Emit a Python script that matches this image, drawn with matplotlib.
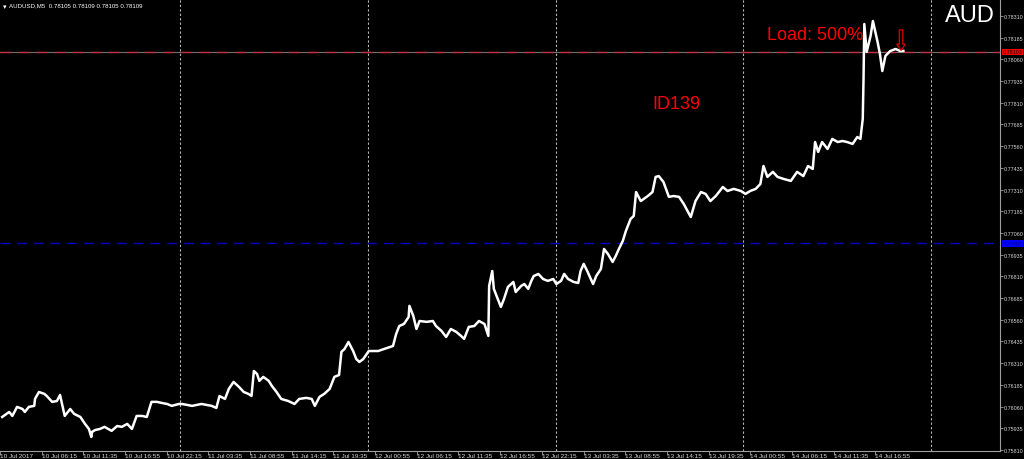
import matplotlib
matplotlib.use("Agg")
import matplotlib.pyplot as plt
import matplotlib.transforms as mtransforms

# hours since 10 Jul 2017 00:00 and AUDUSD M5 price
hours = [
    1.2, 2.1, 2.5, 3.1, 3.8, 4.1, 4.6, 5.3, 5.4, 5.9, 6.6, 6.9, 7.6, 8.2, 8.6,
    9.2, 9.9, 10.4, 11.2, 11.8, 12.3, 12.6, 12.7, 13.1, 13.7, 14.3, 15.2, 15.9,
    16.5, 17.2, 17.8, 18.4, 19.1, 19.7, 20.3, 21.0, 21.6, 22.3, 22.9, 23.8,
    24.2, 25.5, 26.7, 28.0, 28.6, 29.0, 29.7, 30.2, 30.8, 31.5, 32.1, 32.7,
    33.1, 33.4, 33.8, 34.1, 34.6, 35.3, 35.7, 36.3, 36.9, 37.8, 38.6, 39.2,
    40.1, 40.8, 41.2, 41.8, 42.4, 43.1, 43.7, 44.3, 44.6, 45.0, 45.5, 46.1,
    46.5, 46.9, 47.4, 48.1, 48.4,
    49.3, 50.1, 51.2, 51.6, 52.0, 52.6, 53.2, 53.3, 53.8, 54.2, 54.6, 55.5,
    56.3, 56.7, 57.4, 58.0, 58.6, 59.3, 59.9, 60.3, 60.9, 61.6, 62.2, 62.9,
    63.4, 63.5, 63.9, 64.1, 64.6, 65.0, 65.4, 65.9, 66.6, 66.9, 67.6, 68.0,
    68.5, 68.9, 69.2, 69.8, 70.4, 71.0, 71.7, 72.1, 72.7,
    73.1, 73.6, 74.3, 74.9, 75.2, 75.6, 76.1, 76.8, 77.2, 77.8, 78.2, 78.7,
    79.3, 79.7, 80.1, 80.6, 81.0, 81.6, 82.0, 82.3, 82.9, 83.8, 84.4, 84.8,
    85.2, 85.8, 86.5, 87.1, 87.8, 88.4, 89.3, 89.9, 90.6, 91.2, 91.8, 92.5,
    93.4, 94.0, 94.8, 95.7,
    96.3, 96.9, 97.6, 98.2, 98.6, 99.1, 99.8, 100.4, 101.2, 102.1, 102.9,
    103.7, 104.3, 104.9, 105.2, 105.6, 106.1, 106.8, 107.4, 108.1, 108.7,
    109.3, 110.0, 110.6, 111.0, 111.3, 111.4, 111.5, 111.8, 112.3, 112.6,
    113.2, 113.5, 113.8, 114.2, 114.8, 115.5, 116.1, 116.5,
]
prices = [
    0.76000, 0.76029, 0.76006, 0.76058, 0.76046, 0.76029, 0.76058, 0.76064,
    0.76104, 0.76144, 0.76133, 0.76121, 0.76087, 0.76092, 0.76127, 0.76006,
    0.76046, 0.76018, 0.76000, 0.75960, 0.75931, 0.75885, 0.75914, 0.75925,
    0.75931, 0.75943, 0.75920, 0.75948, 0.75943, 0.75960, 0.75931, 0.76006,
    0.76006, 0.76000, 0.76087, 0.76087, 0.76081, 0.76075, 0.76064, 0.76075,
    0.76075, 0.76064, 0.76075, 0.76064, 0.76052, 0.76121, 0.76104, 0.76162,
    0.76202, 0.76173, 0.76144, 0.76133, 0.76121, 0.76265, 0.76248, 0.76208,
    0.76231, 0.76208, 0.76179, 0.76144, 0.76104, 0.76092, 0.76075, 0.76104,
    0.76110, 0.76104, 0.76064, 0.76116, 0.76133, 0.76162, 0.76231, 0.76242,
    0.76375, 0.76392, 0.76432, 0.76380, 0.76334, 0.76317, 0.76334, 0.76380,
    0.76380,
    0.76380, 0.76392, 0.76409, 0.76478, 0.76524, 0.76536, 0.76576, 0.76640,
    0.76582, 0.76507, 0.76553, 0.76548, 0.76553, 0.76524, 0.76496, 0.76461,
    0.76507, 0.76490, 0.76467, 0.76450, 0.76519, 0.76524, 0.76553, 0.76536,
    0.76467, 0.76755, 0.76841, 0.76738, 0.76680, 0.76634, 0.76680, 0.76749,
    0.76778, 0.76720, 0.76755, 0.76766, 0.76738, 0.76784, 0.76812, 0.76824,
    0.76795, 0.76784, 0.76795, 0.76766, 0.76784,
    0.76824, 0.76795, 0.76778, 0.76772, 0.76841, 0.76882, 0.76836, 0.76766,
    0.76812, 0.76853, 0.76968, 0.76939, 0.76893, 0.76928, 0.76968, 0.77014,
    0.77072, 0.77141, 0.77158, 0.77296, 0.77244, 0.77273, 0.77296, 0.77383,
    0.77388, 0.77354, 0.77268, 0.77273, 0.77268, 0.77227, 0.77152, 0.77244,
    0.77296, 0.77285, 0.77244, 0.77273, 0.77325, 0.77302, 0.77314, 0.77302,
    0.77285, 0.77302, 0.77314, 0.77342, 0.77446, 0.77383, 0.77412, 0.77383,
    0.77371, 0.77360, 0.77412, 0.77388, 0.77446, 0.77429, 0.77584, 0.77527,
    0.77584, 0.77544, 0.77602, 0.77584, 0.77590, 0.77584, 0.77573, 0.77613,
    0.77602, 0.77717, 0.77947, 0.78264, 0.78103, 0.78195, 0.78281, 0.78160,
    0.78091, 0.77993, 0.78080, 0.78108, 0.78120, 0.78108, 0.78109,
]

price_ticks = [0.75810 + 0.00125 * k for k in range(21)]
time_labels = [
    "10 Jul 2017", "10 Jul 06:15", "10 Jul 11:35", "10 Jul 16:55",
    "10 Jul 22:15", "11 Jul 03:35", "11 Jul 08:55", "11 Jul 14:15",
    "11 Jul 19:35", "12 Jul 00:55", "12 Jul 06:15", "12 Jul 11:35",
    "12 Jul 16:55", "12 Jul 22:15", "13 Jul 03:35", "13 Jul 08:55",
    "13 Jul 14:15", "13 Jul 19:35", "14 Jul 00:55", "14 Jul 06:15",
    "14 Jul 11:35", "14 Jul 16:55",
]
time_ticks = [
    0.92, 6.25, 11.58, 16.92, 22.25, 27.58, 32.92, 38.25, 43.58, 48.92,
    54.25, 59.58, 64.92, 70.25, 75.58, 80.92, 86.25, 91.58, 96.92, 102.25,
    107.58, 112.92,
]
day_breaks = [24, 48, 72, 96, 120]
bid_price = 0.78103
level_price = 0.77000
arrow_hour = 116.2
arrow_top = 0.78230
arrow_bottom = 0.78112

fig = plt.figure(figsize=(10.24, 4.6), dpi=100, facecolor="black")
ax = fig.add_axes([0.0, 8 / 460, 1000 / 1024, 452 / 460])
ax.set_facecolor("black")
ax.set_xlim(1.2, 128.86)
ax.set_ylim(0.75804, 0.78408)

for d in day_breaks:
    ax.axvline(d, color="#b8b8b8", lw=0.8, ls=(0, (2, 2)), zorder=1)

ax.axhline(level_price, color="#0000c8", lw=1.0, ls=(0, (7, 5)), zorder=1)
ax.axhline(bid_price, color="#707070", lw=0.8, zorder=1)
ax.axhline(bid_price, color="#c03040", lw=1.0, ls=(0, (8, 5)), zorder=1)

ax.plot(hours, prices, color="white", lw=1.8, zorder=3)

# sell arrow
ax.annotate("", xy=(arrow_hour, arrow_bottom), xytext=(arrow_hour, arrow_top),
            arrowprops=dict(arrowstyle="simple,head_length=0.45,head_width=0.6,tail_width=0.25",
                            fc="none", ec="#e00000", lw=0.9, shrinkA=0, shrinkB=0),
            zorder=4)

for s in ["top", "left"]:
    ax.spines[s].set_visible(False)
for s in ["right", "bottom"]:
    ax.spines[s].set_color("#a0a0a0")
    ax.spines[s].set_linewidth(0.8)

ax.yaxis.tick_right()
ax.set_yticks(price_ticks)
ax.set_yticklabels([f"{p:.5f}" for p in price_ticks])
ax.tick_params(axis="y", colors="#a0a0a0", labelcolor="#d8d8d8", labelsize=3.9,
               length=2, width=0.6, pad=0.5)
for lab in ax.get_yticklabels():
    lab.set_family("Liberation Sans")

ax.set_xticks(time_ticks)
ax.set_xticklabels([])
ax.tick_params(axis="x", colors="#a0a0a0", length=3, width=0.6)
xtr = mtransforms.blended_transform_factory(ax.transData, ax.transAxes)
for t, lab in zip(time_ticks, time_labels):
    ax.text(t, -0.009, lab, transform=xtr, color="#d8d8d8", fontsize=4.6,
            family="Liberation Sans", ha="left", va="center", clip_on=False)

# price flags on the right axis
ytr = mtransforms.blended_transform_factory(ax.transAxes, ax.transData)
ax.text(1.0025, bid_price, f"{bid_price:.5f}", transform=ytr, fontsize=3.9,
        family="Liberation Sans", color="black", ha="left", va="center",
        bbox=dict(boxstyle="square,pad=0.15", fc="#ff0000", ec="none"), clip_on=False)
ax.text(1.0025, level_price, f"{level_price:.5f}", transform=ytr, fontsize=3.9,
        family="Liberation Sans", color="#000090", ha="left", va="center",
        bbox=dict(boxstyle="square,pad=0.15", fc="#0000ff", ec="none"), clip_on=False)

# overlay texts
fig.text(0.0025, 0.992, "\u25be", color="white", fontsize=5, va="top", ha="left")
fig.text(0.009, 0.993, "AUDUSD,M5  0.78105 0.78109 0.78105 0.78109", color="white",
         fontsize=4.4, family="Liberation Sans", va="top", ha="left")
fig.text(0.972, 0.965, "AUD", color="white", fontsize=17,
         family="Liberation Sans", ha="right", va="center")
fig.text(0.749, 0.923, "Load: 500%", color="#ff0000", fontsize=13,
         family="Liberation Sans", ha="left", va="center")
fig.text(0.637, 0.773, "ID139", color="#ff0000", fontsize=13,
         family="Liberation Sans", ha="left", va="center")

fig.savefig("out.png", dpi=100, facecolor="black")
